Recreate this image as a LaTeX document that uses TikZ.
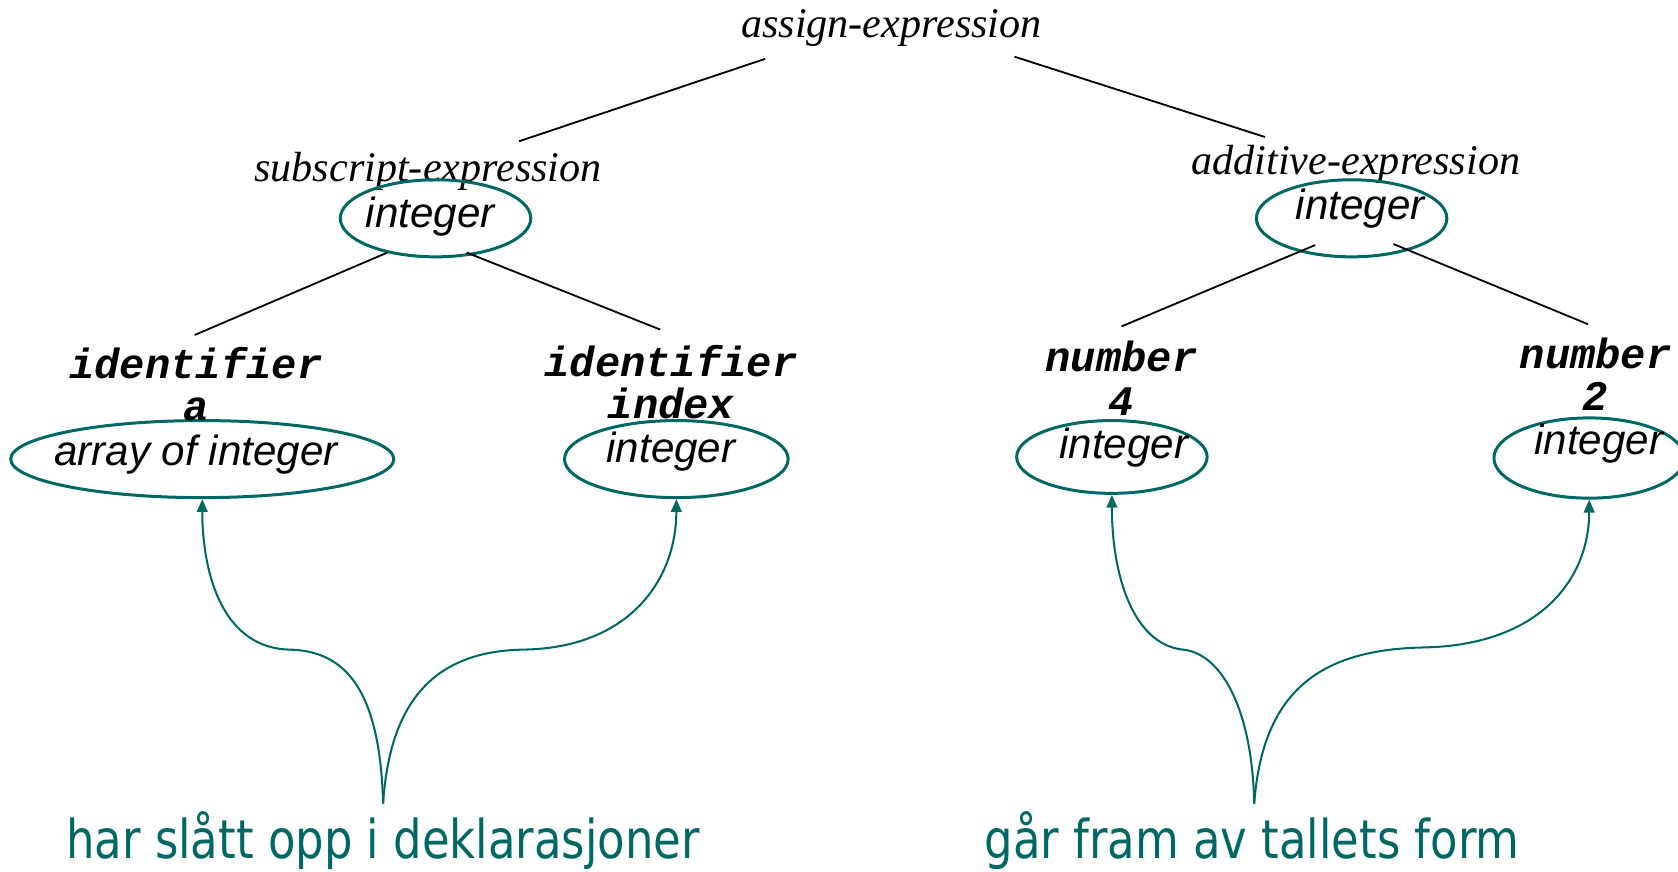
\documentclass[tikz,border=0pt]{standalone}
\usepackage{fontspec}
\setmainfont{Liberation Serif}
\newfontfamily\helv{Liberation Sans}
\newfontfamily\cour{Liberation Mono}
\newfontfamily\hand[FakeStretch=0.84]{DejaVu Sans}
\usetikzlibrary{shapes.geometric,arrows.meta}
\definecolor{teal1}{RGB}{0,104,100}
\begin{document}
\begin{tikzpicture}[x=0.5pt,y=-0.5pt,
  cat/.style={font=\fontsize{19.7pt}{22pt}\selectfont\itshape, inner sep=0pt, anchor=base},
  typ/.style={font=\fontsize{19.7pt}{22pt}\helv\itshape, inner sep=0pt, anchor=base},
  tok/.style={font=\fontsize{19.7pt}{22pt}\cour\bfseries\itshape, inner sep=0pt, anchor=base},
  oval/.style={draw=teal1, line width=1.4pt, ellipse, inner sep=0pt},
  branch/.style={draw=black, line width=0.85pt},
  note/.style={font=\fontsize{25pt}{30pt}\hand, text=teal1, inner sep=0pt, anchor=base},
  pointer/.style={draw=teal1, line width=0.95pt, -{Triangle[length=6pt,width=5pt]}}]
\useasboundingbox (0,0) rectangle (1568,814);

% category labels
\node[cat] (root) at (833,35) {assign-expression};
\node[cat] (sub) at (400,170) {subscript-expression};
\node[cat] (add) at (1267,163) {additive-expression};

% ellipses
\node[oval, minimum width=89pt, minimum height=36pt] (esub) at (407,204) {};
\node[oval, minimum width=179pt, minimum height=36pt] (ea) at (189,429) {};
\node[oval, minimum width=104.5pt, minimum height=36pt] (eidx) at (632,429) {};
\node[oval, minimum width=89pt, minimum height=36pt] (eadd) at (1263,204) {};
\node[oval, minimum width=89pt, minimum height=34pt] (efour) at (1039,427) {};
\node[oval, minimum width=89pt, minimum height=37.5pt] (etwo) at (1485,428) {};

% type texts
\node[typ] (tsub) at (402,213) {integer};
\node[typ] (ta) at (183,435) {array of integer};
\node[typ] (tidx) at (627,432) {integer};
\node[typ] (tadd) at (1271,205) {integer};
\node[typ] (tfour) at (1050,428) {integer};
\node[typ] (ttwo) at (1494,425) {integer};

% tokens
\node[tok] (ida) at (183,354) {identifier};
\node[tok] (va) at (183,393) {a};
\node[tok] (idi) at (627,352) {identifier};
\node[tok] (vi) at (627,391) {index};
\node[tok] (nfour) at (1048,347) {number};
\node[tok] (vfour) at (1048,388) {4};
\node[tok] (ntwo) at (1491,344) {number};
\node[tok] (vtwo) at (1491,384) {2};

% tree branches
\coordinate (r1) at (715,55);  \coordinate (s1) at (485,132);
\coordinate (r2) at (948,53);  \coordinate (a1) at (1182,128);
\coordinate (s2) at (362,236); \coordinate (ia) at (182,313);
\coordinate (s3) at (436,236); \coordinate (ii) at (617,308);
\coordinate (a2) at (1229,229); \coordinate (n4) at (1048,305);
\coordinate (a3) at (1302,228); \coordinate (n2) at (1484,303);
\draw[branch] (r1) -- (s1);
\draw[branch] (r2) -- (a1);
\draw[branch] (s2) -- (ia);
\draw[branch] (s3) -- (ii);
\draw[branch] (a2) -- (n4);
\draw[branch] (a3) -- (n2);

% notes
\node[note] (decl) at (358,802) {har slått opp i deklarasjoner};
\node[note] (form) at (1170,802) {går fram av tallets form};

\coordinate (bl) at (358,751);
\coordinate (br) at (1172,751);
\draw[pointer] (bl) .. controls (355,640) and (320,608) .. (270,607)
  .. controls (205,605) and (189,530) .. (ea.south);
\draw[pointer] (bl) .. controls (365,640) and (420,608) .. (490,607)
  .. controls (590,605) and (632,540) .. (eidx.south);
\draw[pointer] (br) .. controls (1170,660) and (1140,610) .. (1105,607)
  .. controls (1060,602) and (1039,540) .. (efour.south);
\draw[pointer] (br) .. controls (1180,640) and (1240,607) .. (1330,605)
  .. controls (1440,603) and (1485,540) .. (etwo.south);
\end{tikzpicture}
\end{document}
